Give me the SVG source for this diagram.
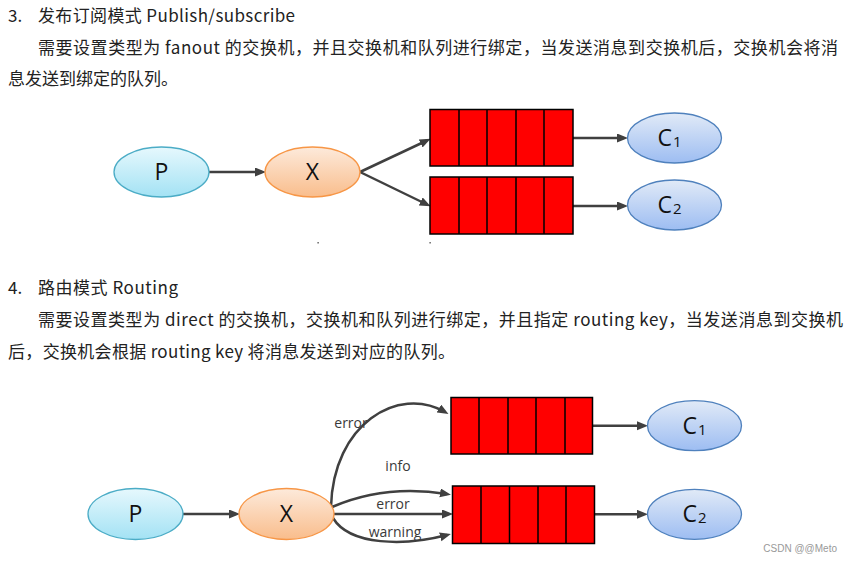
<svg xmlns="http://www.w3.org/2000/svg" width="852" height="562" viewBox="0 0 852 562">
<style>
.t{font-family:"Noto Sans CJK SC","Noto Sans",sans-serif;font-size:17px;fill:#222}
.lbl{font-family:"Open Sans","Noto Sans",sans-serif;font-size:14px;fill:#3a3a3a}
.nl{font-family:"Open Sans","Noto Sans",sans-serif;font-size:23px;fill:#111}
.sub{font-family:"Open Sans","Noto Sans",sans-serif;font-size:15px;fill:#111}
.q{fill:#ff0000;stroke:#000;stroke-width:1.5}
.qd{stroke:#000;stroke-width:1.5}
.c{fill:none;stroke:#404040;stroke-width:2.5;marker-end:url(#ah)}
.p{fill:url(#gp);stroke:#4bacc6;stroke-width:1.3}
.x{fill:url(#gx);stroke:#f79646;stroke-width:1.3}
.cc{fill:url(#gc);stroke:#4f81bd;stroke-width:1.3}
</style>
<defs>
<marker id="ah" markerUnits="userSpaceOnUse" markerWidth="12" markerHeight="10" refX="7" refY="4.5" orient="auto">
<path d="M0,0 L11,4.5 L0,9 z" fill="#404040"/>
</marker>
<linearGradient id="gp" x1="0" y1="0" x2="0" y2="1"><stop offset="0" stop-color="#e6f8fd"/><stop offset="1" stop-color="#a3e2f4"/></linearGradient>
<linearGradient id="gx" x1="0" y1="0" x2="0" y2="1"><stop offset="0" stop-color="#fdeadb"/><stop offset="1" stop-color="#f9bd8c"/></linearGradient>
<linearGradient id="gc" x1="0" y1="0" x2="0" y2="1"><stop offset="0" stop-color="#e1eaf7"/><stop offset="1" stop-color="#9dbdf2"/></linearGradient>
</defs>
<rect width="852" height="562" fill="#fff"/>
<g id="text">
<text class="t" x="8" y="22">3.</text>
<text class="t" x="38" y="22" textLength="257">发布订阅模式 Publish/subscribe</text>
<text class="t" x="38" y="54" textLength="800">需要设置类型为 fanout 的交换机，并且交换机和队列进行绑定，当发送消息到交换机后，交换机会将消</text>
<text class="t" x="8" y="85" textLength="170">息发送到绑定的队列。</text>
<text class="t" x="8" y="294">4.</text>
<text class="t" x="38" y="294" textLength="140">路由模式 Routing</text>
<text class="t" x="38" y="326" textLength="805">需要设置类型为 direct 的交换机，交换机和队列进行绑定，并且指定 routing key，当发送消息到交换机</text>
<text class="t" x="8" y="358" textLength="447">后，交换机会根据 routing key 将消息发送到对应的队列。</text>
</g>
<g id="connectors">
<line class="c" x1="209" y1="172" x2="262" y2="172"/>
<line class="c" x1="360" y1="172" x2="427" y2="140.5"/>
<line class="c" x1="360" y1="172" x2="427" y2="204.5"/>
<line class="c" x1="573" y1="138" x2="624" y2="138"/>
<line class="c" x1="573" y1="206" x2="624" y2="206"/>
<line class="c" x1="183" y1="514" x2="236" y2="514"/>
<path class="c" d="M331,507 C333,424 398,385 445,412"/>
<path class="c" d="M332,507 Q385,484 447,494"/>
<line class="c" x1="334" y1="514" x2="449" y2="514"/>
<path class="c" d="M333,518 C350,546 405,546 447,535"/>
<line class="c" x1="592" y1="425.7" x2="644" y2="425.7"/>
<line class="c" x1="594" y1="514.3" x2="644" y2="514.3"/>
</g>
<g id="labels">
<text class="lbl" x="351" y="428" text-anchor="middle">error</text>
<text class="lbl" x="398" y="471" text-anchor="middle">info</text>
<text class="lbl" x="393" y="509" text-anchor="middle">error</text>
<text class="lbl" x="395" y="537" text-anchor="middle">warning</text>
</g>
<g id="P1"><ellipse class="p" cx="161.5" cy="172" rx="47.5" ry="25"/><text class="nl" x="161.5" y="180" text-anchor="middle">P</text></g>
<g id="X1"><ellipse class="x" cx="312.5" cy="172" rx="47.5" ry="25"/><text class="nl" x="312.5" y="180" text-anchor="middle">X</text></g>
<g id="Q1a"><rect class="q" x="430" y="109.5" width="143" height="56.5"/><path class="qd" d="M459,109.5V166M487,109.5V166M516,109.5V166M544,109.5V166"/></g>
<g id="Q1b"><rect class="q" x="430" y="177" width="143" height="57"/><path class="qd" d="M459,177V234M487,177V234M516,177V234M544,177V234"/></g>
<g id="C1a"><ellipse class="cc" cx="674.5" cy="138" rx="47" ry="25"/><text class="nl" x="672" y="146" text-anchor="end">C</text><text class="sub" x="673" y="147">1</text></g>
<g id="C2a"><ellipse class="cc" cx="674.5" cy="205" rx="47" ry="25"/><text class="nl" x="672" y="213" text-anchor="end">C</text><text class="sub" x="673" y="214">2</text></g>
<rect x="317.5" y="242" width="1.2" height="1.5" fill="#444"/>
<rect x="429.5" y="242" width="1.2" height="1.5" fill="#444"/>
<g id="P2"><ellipse class="p" cx="135.5" cy="514" rx="47.5" ry="25.5"/><text class="nl" x="135.5" y="522" text-anchor="middle">P</text></g>
<g id="X2"><ellipse class="x" cx="286.5" cy="514" rx="47.5" ry="25.5"/><text class="nl" x="286.5" y="522" text-anchor="middle">X</text></g>
<g id="Q2a"><rect class="q" x="451" y="397.5" width="141.5" height="56.5"/><path class="qd" d="M479,397.5V454M508,397.5V454M536,397.5V454M565,397.5V454"/></g>
<g id="Q2b"><rect class="q" x="452.5" y="486" width="142" height="57.5"/><path class="qd" d="M481,486V543.5M509.5,486V543.5M538,486V543.5M566,486V543.5"/></g>
<g id="C1b"><ellipse class="cc" cx="694.5" cy="425.7" rx="47" ry="25"/><text class="nl" x="697" y="434" text-anchor="end">C</text><text class="sub" x="698" y="435">1</text></g>
<g id="C2b"><ellipse class="cc" cx="694.5" cy="514.3" rx="47" ry="25"/><text class="nl" x="697" y="522" text-anchor="end">C</text><text class="sub" x="698" y="523">2</text></g>
<text x="837" y="552" text-anchor="end" style="font-family:'Liberation Sans',sans-serif;font-size:10px;fill:#999">CSDN @@Meto</text>
</svg>
